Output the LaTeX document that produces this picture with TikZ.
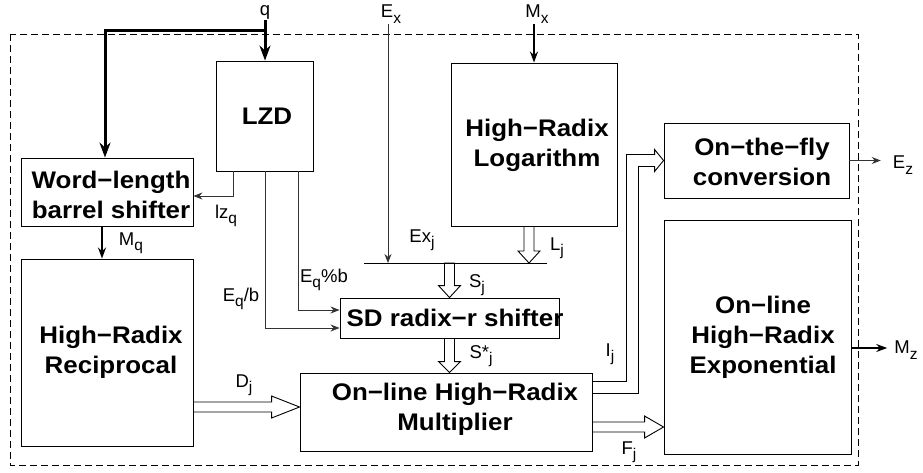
\documentclass[tikz,border=0pt]{standalone}
\usepackage{fontspec}
\setmainfont{Liberation Sans}
\newfontfamily\boxfam[FakeStretch=1.08]{Liberation Sans}
\usetikzlibrary{arrows.meta,calc,backgrounds}
\newcommand\lsub[1]{\raisebox{-5.5pt}{\fontsize{15.5}{15.5}\selectfont #1}}
\newcommand\bxf{\boxfam\fontsize{24}{30}\selectfont\bfseries}
\newcommand\lbf{\fontsize{18.5}{18.5}\selectfont}
\tikzset{
  box/.style={draw, line width=0.9pt, inner sep=0pt},
  txt/.style={font=\bxf, align=center, inner sep=0pt},
  lab/.style={font=\lbf, inner sep=1pt},
  arr/.style={line width=0.9pt, draw=black!80, -{Stealth[length=9pt,width=7pt]}},
  barr/.style={line width=2pt, -{Stealth[length=11pt,width=8pt]}},
  qarr/.style={line width=3pt, -{Stealth[length=15pt,width=11pt]}},
  hollow/.style={draw, fill=white, line width=0.9pt, line join=miter},
  frame/.style={dash pattern=on 7pt off 4pt, line width=0.9pt}
}
\newcommand\hollowarr[3]{%
  \coordinate (ha) at #1;
  \coordinate (hb) at #2;
  \coordinate (hh) at ($(hb)!#3!(ha)$);
  \filldraw[hollow] ($(ha)!5pt!90:(hb)$) -- ($(hh)!5pt!-90:(ha)$) -- ($(hh)!11pt!-90:(ha)$) -- (hb) -- ($(hh)!11pt!90:(ha)$) -- ($(hh)!5pt!90:(ha)$) -- ($(ha)!5pt!-90:(hb)$) -- cycle;
}
\begin{document}
\begin{tikzpicture}[x=1pt,y=-1pt]
\useasboundingbox (0,0) rectangle (923,472);
\draw[frame] (10,34) rectangle (858,465);

% boxes
\node[box, minimum width=97, minimum height=110] (LZD) at (265,116) {};
\node[box, minimum width=172, minimum height=68] (Word) at (107,192) {};
\node[box, minimum width=172, minimum height=187] (Recip) at (107,352.5) {};
\node[box, minimum width=166, minimum height=163] (Log) at (534,144.5) {};
\node[box, minimum width=185, minimum height=75] (Otf) at (756.5,160.5) {};
\node[box, minimum width=187, minimum height=234] (Exp) at (757.5,337) {};
\node[box, minimum width=219, minimum height=40] (SD) at (449.5,318) {};
\node[box, minimum width=292, minimum height=78] (Mult) at (446,412) {};

% box texts
\node[txt] (tLZD) at (267,116) {LZD};
\node[txt] (tWord) at (111,195) {Word−length\\barrel shifter};
\node[txt] (tRecip) at (111,352) {High−Radix\\Reciprocal};
\node[txt] (tLog) at (537,145) {High−Radix\\Logarithm};
\node[txt] (tOtf) at (762,162) {On−the−fly\\conversion};
\node[txt] (tExp) at (763,337) {On−line\\High−Radix\\Exponential};
\node[txt] (tSD) at (455,318) {SD radix−r shifter};
\node[txt] (tMult) at (455,409) {On−line High−Radix\\Multiplier};

% labels
\node[lab] (q) at (265,12) {q};
\node[lab] (Ex) at (391,14) {E\lsub{x}};
\node[lab] (Mx) at (537,14) {M\lsub{x}};
\node[lab] (lzq) at (226,216) {lz\lsub{q}};
\node[lab] (Mq) at (131,243) {M\lsub{q}};
\node[lab] (Eqb) at (241,299) {E\lsub{q}/b};
\node[lab] (Eqm) at (324,280) {E\lsub{q}\%b};
\node[lab] (Exj) at (422,240) {Ex\lsub{j}};
\node[lab] (Lj) at (557,248) {L\lsub{j}};
\node[lab] (Sj) at (477,285) {S\lsub{j}};
\node[lab] (Ssj) at (481,356) {S*\lsub{j}};
\node[lab] (Dj) at (244,385) {D\lsub{j}};
\node[lab] (Ij) at (610,354) {I\lsub{j}};
\node[lab] (Fj) at (629,452) {F\lsub{j}};
\node[lab] (Ez) at (903,165) {E\lsub{z}};
\node[lab] (Mz) at (906,350) {M\lsub{z}};

% q distribution
\coordinate (qc) at (265,30);
\draw[qarr] (q.south) -- (LZD.north);
\draw[qarr, line join=miter] (qc) -| ([xshift=-2pt]Word.north);

% LZD outputs
\draw[arr] ([xshift=-32pt]LZD.south) |- ([yshift=-4pt]Word.east);
\draw[arr] (LZD.south) |- ([yshift=-10pt]SD.west);
\draw[arr] ([xshift=33pt]LZD.south) |- ([yshift=8pt]SD.west);
\draw[barr] ([xshift=-5pt]Word.south) -- ([xshift=-5pt]Recip.north);

% bus
\coordinate (busL) at (364,263);
\coordinate (busR) at (547,263);
\draw[line width=0.9pt] (busL) -- (busR);
\coordinate (exs) at ([xshift=-3pt]Ex.south);
\draw[arr] (exs) -- (exs |- busL);
\draw[barr] (Mx.south -| Log.north) -- (Log.north);

% outputs
\coordinate (ezw) at ([xshift=-11pt]Ez.west);
\draw[arr] (Otf.east) -- (Otf.east -| ezw);
\coordinate (mzw) at ([xshift=-6pt,yshift=2pt]Mz.west);
\draw[barr] (Exp.east |- mzw) -- (mzw);

% hollow arrows
\begin{pgfonlayer}{background}
\coordinate (lj1) at ([xshift=-5pt]Log.south);
\coordinate (lj2) at (lj1 |- busL);
\hollowarr{(lj1)}{(lj2)}{12pt}
\coordinate (sj1) at (SD.north |- busL);
\hollowarr{(sj1)}{(SD.north)}{12pt}
\coordinate (ss2) at (SD.south |- Mult.north);
\hollowarr{(SD.south)}{(ss2)}{11pt}
\coordinate (dj2) at ([yshift=5pt]Mult.west);
\coordinate (dj1) at (Recip.east |- dj2);
\hollowarr{(dj1)}{(dj2)}{28pt}
\coordinate (fj1) at ([yshift=-15pt]Mult.east);
\coordinate (fj2) at (Exp.west |- fj1);
\hollowarr{(fj1)}{(fj2)}{19pt}
\coordinate (ij1) at ([yshift=24.5pt]Mult.east);
\coordinate (ij2) at ([xshift=-31pt]Otf.west);
\coordinate (ij3) at ([xshift=-9pt]Otf.west);
\draw[double, double distance=10.5pt, line width=0.9pt, line join=miter] (ij1) -| (ij2) -- (ij3);
\filldraw[hollow] ($(ij3)+(0,-5.7)$) -- ($(ij3)+(0,-11)$) -- (Otf.west) -- ($(ij3)+(0,11)$) -- ($(ij3)+(0,5.7)$);
\end{pgfonlayer}
\end{tikzpicture}
\end{document}
